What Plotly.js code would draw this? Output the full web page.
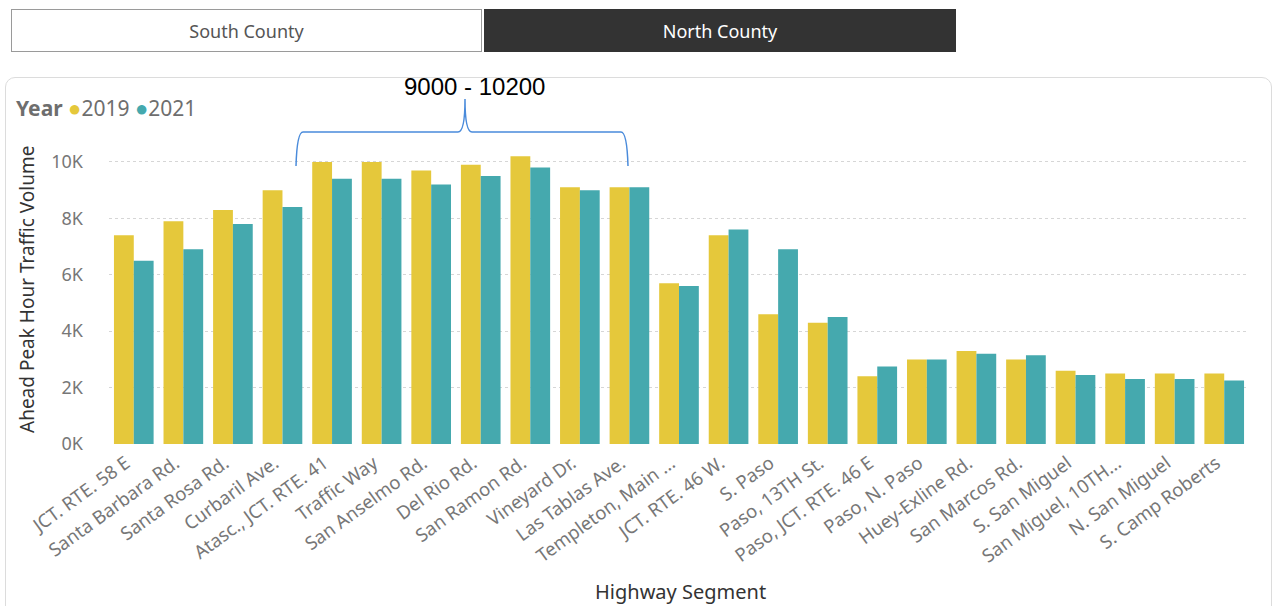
<!DOCTYPE html>
<html>
<head>
<meta charset="utf-8">
<script src="https://cdn.plot.ly/plotly-3.0.1.min.js"></script>
<style>
  html, body { margin:0; padding:0; background:#fff; width:1275px; height:606px; overflow:hidden; }
  body { position:relative; font-family:"Segoe UI","Noto Sans","Open Sans",sans-serif; }
  .btn { position:absolute; top:9px; height:43px; box-sizing:border-box; display:flex; align-items:center; justify-content:center; font-size:18px; }
  #south { left:11px; width:471px; border:1px solid #9a9a9a; background:#fff; color:#555; }
  #north { left:484px; width:472px; background:#333333; color:#fff; border:1px solid #333; }
  #card { position:absolute; left:5px; top:77px; width:1267px; height:560px; box-sizing:border-box; border:1px solid #dcdcdc; border-radius:10px; background:#fff; }
  #chart { position:absolute; left:0; top:0; width:1275px; height:606px; }
</style>
</head>
<body>
<div class="btn" id="south">South County</div>
<div class="btn" id="north">North County</div>
<div id="card"></div>
<div id="chart"></div>
<script>
const segments = [
  "JCT. RTE. 58 E", "Santa Barbara Rd.", "Santa Rosa Rd.", "Curbaril Ave.",
  "Atasc., JCT. RTE. 41", "Traffic Way", "San Anselmo Rd.", "Del Rio Rd.",
  "San Ramon Rd.", "Vineyard Dr.", "Las Tablas Ave.", "Templeton, Main ...",
  "JCT. RTE. 46 W.", "S. Paso", "Paso, 13TH St.", "Paso, JCT. RTE. 46 E",
  "Paso, N. Paso", "Huey-Exline Rd.", "San Marcos Rd.", "S. San Miguel",
  "San Miguel, 10TH...", "N. San Miguel", "S. Camp Roberts"
];
const volume2019 = [7400, 7900, 8300, 9000, 10000, 10000, 9700, 9900, 10200, 9100, 9100, 5700,
                    7400, 4600, 4300, 2400, 3000, 3300, 3000, 2600, 2500, 2500, 2500];
const volume2021 = [6500, 6900, 7800, 8400, 9400, 9400, 9200, 9500, 9800, 9000, 9100, 5600,
                    7600, 6900, 4500, 2750, 3000, 3200, 3150, 2450, 2300, 2300, 2250];
const yTickVals = [0, 2000, 4000, 6000, 8000, 10000];
const yTickText = ["0K", "2K", "4K", "6K", "8K", "10K"];
const rangeLabel = "9000 - 10200";

const YELLOW = "#E5C83B", TEAL = "#45A9AE";
const FONT = "Segoe UI, Noto Sans, Open Sans, sans-serif";

// plot-area geometry in pixels
const L = 109, R = 26, T = 145, B = 162, W = 1275, H = 606;
const PW = W - L - R, PH = H - T - B;
const px = x => (x - L) / PW;
const py = y => (H - B - y) / PH;

function bracePath() {
  const pts = [
    ["M", 296, 166], ["Q", 297, 132, 303, 132], ["L", 458, 132],
    ["Q", 465, 132, 465, 99], ["Q", 465, 132, 472, 132], ["L", 621, 132],
    ["Q", 627, 132, 628, 166]
  ];
  return pts.map(p => {
    let s = p[0];
    for (let i = 1; i < p.length; i += 2) s += " " + px(p[i]).toFixed(5) + "," + py(p[i + 1]).toFixed(5);
    return s;
  }).join(" ");
}

const data = [
  { type: "bar", name: "2019", x: segments, y: volume2019, marker: { color: YELLOW }, showlegend: false, hoverinfo: "x+y" },
  { type: "bar", name: "2021", x: segments, y: volume2021, marker: { color: TEAL }, showlegend: false, hoverinfo: "x+y" }
];

const dot = c => "<span style='color:" + c + ";font-size:22px'>●</span>";

const layout = {
  width: W, height: H,
  margin: { l: L, r: R, t: T, b: B, pad: 0 },
  paper_bgcolor: "rgba(0,0,0,0)",
  plot_bgcolor: "rgba(0,0,0,0)",
  barmode: "group",
  bargap: 0.2,
  bargroupgap: 0,
  font: { family: FONT, color: "#777" },
  xaxis: {
    type: "category",
    tickangle: -36,
    tickfont: { size: 18.5, color: "#777", family: FONT },
    showgrid: false, zeroline: false, showline: false, ticks: "",
    automargin: false,
    ticklabelshift: -8,
    ticklabelstandoff: 4
  },
  yaxis: {
    range: [0, 10600],
    tickvals: yTickVals, ticktext: yTickText,
    tickfont: { size: 18, color: "#777", family: FONT },
    showgrid: true, gridcolor: "#d6d6d6", griddash: "dot", gridwidth: 1,
    zeroline: false, showline: false, ticks: "",
    automargin: false,
    ticklabelstandoff: 25
  },
  shapes: [
    { type: "path", xref: "paper", yref: "paper", path: bracePath(), line: { color: "#4A8BDB", width: 1.5 } }
  ],
  annotations: [
    { xref: "paper", yref: "paper", x: px(14), y: py(107), xanchor: "left", yanchor: "middle", showarrow: false,
      text: "<b>Year</b> " + dot(YELLOW) + "2019 " + dot(TEAL) + "2021",
      font: { size: 21, color: "#6e6e6e", family: FONT } },
    { xref: "paper", yref: "paper", x: px(474), y: py(87), xanchor: "center", yanchor: "middle", showarrow: false,
      text: rangeLabel, font: { size: 24, color: "#000", family: "Liberation Sans, Arial, sans-serif" } },
    { xref: "paper", yref: "paper", x: px(27), y: py(290), xanchor: "center", yanchor: "middle", showarrow: false,
      textangle: -90, text: "Ahead Peak Hour Traffic Volume", font: { size: 19, color: "#333", family: FONT } },
    { xref: "paper", yref: "paper", x: px(680), y: py(591), xanchor: "center", yanchor: "middle", showarrow: false,
      text: "Highway Segment", font: { size: 20, color: "#333", family: FONT } }
  ]
};

Plotly.newPlot("chart", data, layout, { displayModeBar: false, staticPlot: true });
</script>
</body>
</html>
